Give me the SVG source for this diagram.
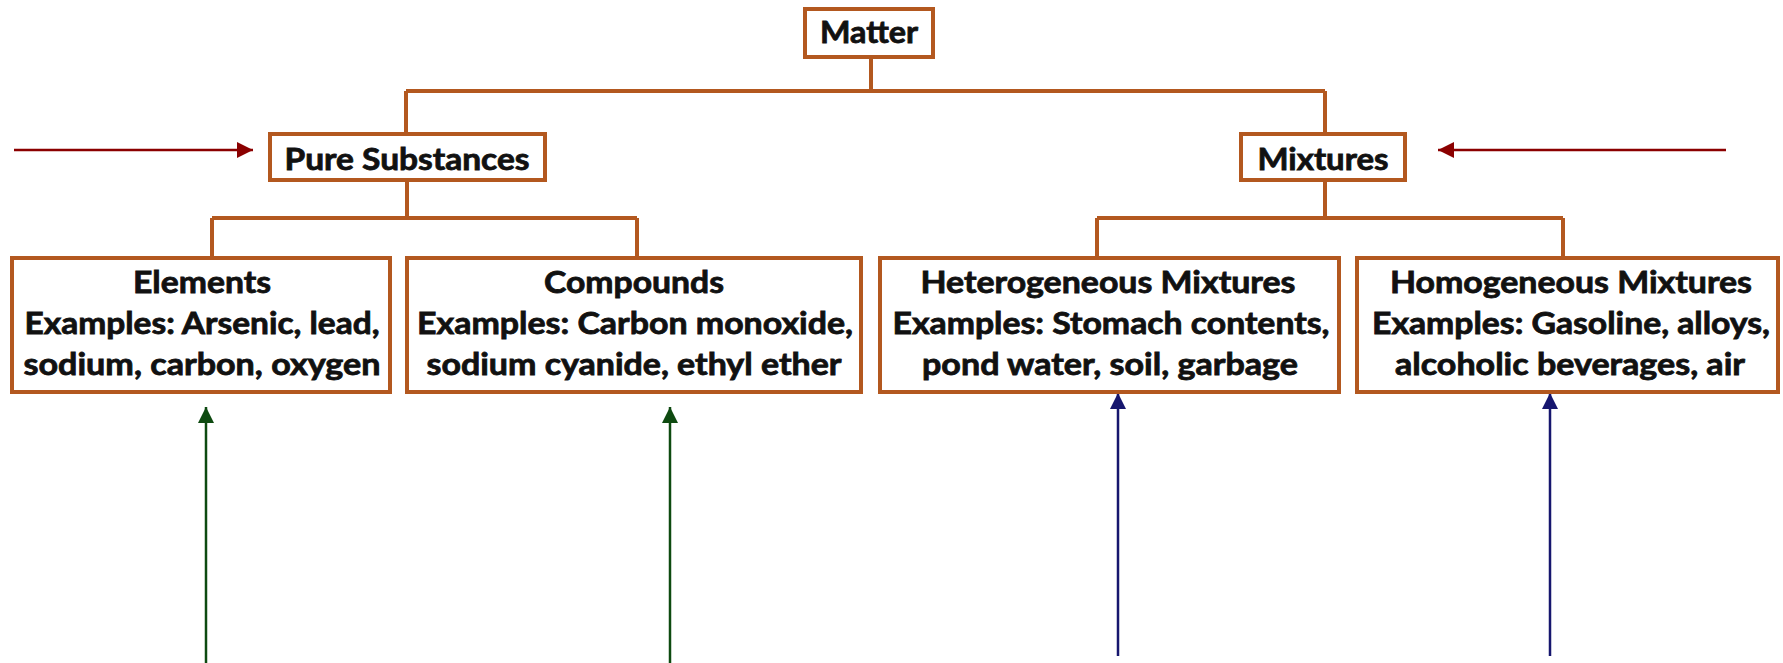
<svg xmlns="http://www.w3.org/2000/svg" width="1783" height="663" viewBox="0 0 1783 663">
<defs>
<style>
.box{fill:#fff;stroke:#B3581F;stroke-width:4}
.tree{fill:none;stroke:#B3581F;stroke-width:4}
.t{font-family:Lato,"Open Sans","Liberation Sans",sans-serif;font-weight:bold;font-size:30px;fill:#111;stroke:#111;stroke-width:0.8;text-anchor:middle}
.red{stroke:#8B0000;stroke-width:2.5;fill:none}
.green{stroke:#0E4A10;stroke-width:2.5;fill:none}
.blue{stroke:#16166E;stroke-width:2.5;fill:none}
</style>
<marker id="ar" viewBox="0 0 16 16" refX="16" refY="8" markerWidth="16" markerHeight="16" markerUnits="userSpaceOnUse" orient="auto"><path d="M0,0 L16,8 L0,16 z" fill="#8B0000"/></marker>
<marker id="ag" viewBox="0 0 16 16" refX="16" refY="8" markerWidth="16" markerHeight="16" markerUnits="userSpaceOnUse" orient="auto"><path d="M0,0 L16,8 L0,16 z" fill="#0E4A10"/></marker>
<marker id="ab" viewBox="0 0 16 16" refX="16" refY="8" markerWidth="16" markerHeight="16" markerUnits="userSpaceOnUse" orient="auto"><path d="M0,0 L16,8 L0,16 z" fill="#16166E"/></marker>
</defs>
<rect width="1783" height="663" fill="#fff"/>
<g id="connectors">
<path class="tree" d="M871,57 V91 M406,91 H1325 M406,91 V134 M1325,91 V134"/>
<path class="tree" d="M407,180 V218 M212,218 H637 M212,218 V258 M637,218 V258"/>
<path class="tree" d="M1325,180 V218 M1097,218 H1563 M1097,218 V258 M1563,218 V258"/>
<line class="red" x1="14" y1="150" x2="253" y2="150" marker-end="url(#ar)"/>
<line class="red" x1="1726" y1="150" x2="1438" y2="150" marker-end="url(#ar)"/>
<line class="green" x1="206" y1="663" x2="206" y2="407" marker-end="url(#ag)"/>
<line class="green" x1="670" y1="663" x2="670" y2="407" marker-end="url(#ag)"/>
<line class="blue" x1="1118" y1="656" x2="1118" y2="393" marker-end="url(#ab)"/>
<line class="blue" x1="1550" y1="656" x2="1550" y2="393" marker-end="url(#ab)"/>
</g>
<g id="matter">
<rect class="box" x="805" y="9" width="128" height="48"/>
<text class="t" x="869" y="43" textLength="98" lengthAdjust="spacingAndGlyphs">Matter</text>
</g>
<g id="pure">
<rect class="box" x="270" y="134" width="275" height="46"/>
<text class="t" x="407" y="170" textLength="245" lengthAdjust="spacingAndGlyphs">Pure Substances</text>
</g>
<g id="mixtures">
<rect class="box" x="1241" y="134" width="164" height="46"/>
<text class="t" x="1323" y="170" textLength="131" lengthAdjust="spacingAndGlyphs">Mixtures</text>
</g>
<g id="elements">
<rect class="box" x="12" y="258" width="378" height="134"/>
<text class="t" x="202" y="293" textLength="138" lengthAdjust="spacingAndGlyphs">Elements</text>
<text class="t" x="202" y="334" textLength="355" lengthAdjust="spacingAndGlyphs">Examples: Arsenic, lead,</text>
<text class="t" x="202" y="375" textLength="357" lengthAdjust="spacingAndGlyphs">sodium, carbon, oxygen</text>
</g>
<g id="compounds">
<rect class="box" x="407" y="258" width="454" height="134"/>
<text class="t" x="634" y="293" textLength="180" lengthAdjust="spacingAndGlyphs">Compounds</text>
<text class="t" x="635" y="334" textLength="436" lengthAdjust="spacingAndGlyphs">Examples: Carbon monoxide,</text>
<text class="t" x="634" y="375" textLength="415" lengthAdjust="spacingAndGlyphs">sodium cyanide, ethyl ether</text>
</g>
<g id="heterogeneous">
<rect class="box" x="880" y="258" width="459" height="134"/>
<text class="t" x="1108" y="293" textLength="375" lengthAdjust="spacingAndGlyphs">Heterogeneous Mixtures</text>
<text class="t" x="1111" y="334" textLength="437" lengthAdjust="spacingAndGlyphs">Examples: Stomach contents,</text>
<text class="t" x="1110" y="375" textLength="376" lengthAdjust="spacingAndGlyphs">pond water, soil, garbage</text>
</g>
<g id="homogeneous">
<rect class="box" x="1357" y="258" width="421" height="134"/>
<text class="t" x="1571" y="293" textLength="362" lengthAdjust="spacingAndGlyphs">Homogeneous Mixtures</text>
<text class="t" x="1571" y="334" textLength="398" lengthAdjust="spacingAndGlyphs">Examples: Gasoline, alloys,</text>
<text class="t" x="1570" y="375" textLength="350" lengthAdjust="spacingAndGlyphs">alcoholic beverages, air</text>
</g>
</svg>
